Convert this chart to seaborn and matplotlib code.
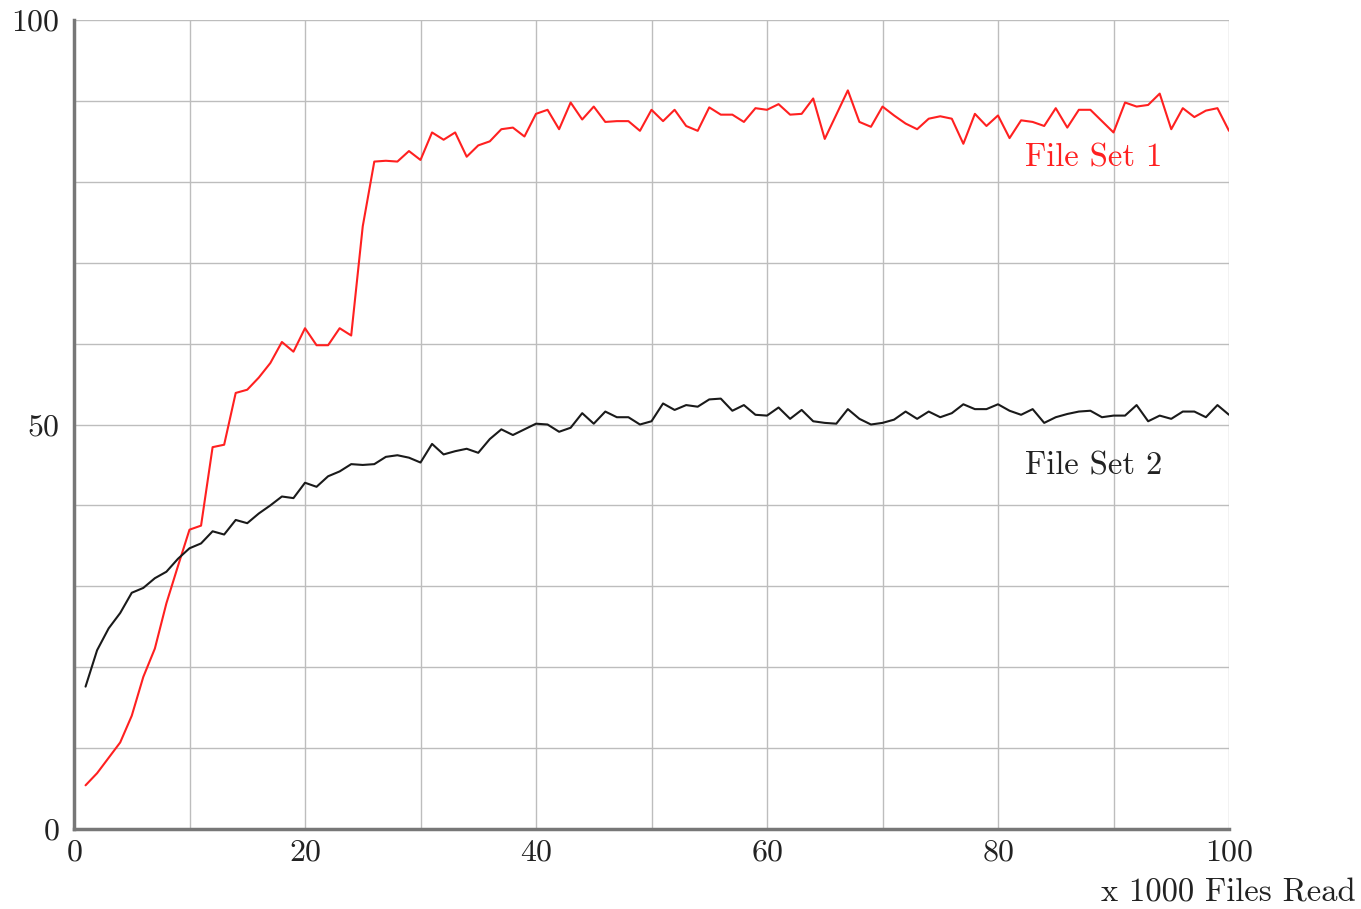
import numpy as np
import pandas as pd
import seaborn as sns
import matplotlib.pyplot as plt

# x 1000 files read
files_read = list(range(1, 101))

file_set_1 = [5.4, 6.9, 8.8, 10.7, 14.0, 18.8, 22.3, 27.9, 32.5, 37.0,
              37.5, 47.2, 47.5, 53.9, 54.3, 55.8, 57.6, 60.2, 59.0, 61.9,
              59.8, 59.8, 61.9, 61.0, 74.5, 82.5, 82.6, 82.5, 83.8, 82.7,
              86.1, 85.2, 86.1, 83.1, 84.5, 85.0, 86.5, 86.7, 85.6, 88.4,
              88.9, 86.5, 89.8, 87.7, 89.3, 87.4, 87.5, 87.5, 86.3, 88.9,
              87.5, 88.9, 86.9, 86.3, 89.2, 88.3, 88.3, 87.4, 89.1, 88.9,
              89.6, 88.3, 88.4, 90.3, 85.3, 88.3, 91.3, 87.4, 86.8, 89.3,
              88.2, 87.2, 86.5, 87.8, 88.1, 87.8, 84.7, 88.4, 86.9, 88.2,
              85.4, 87.6, 87.4, 86.9, 89.1, 86.7, 88.9, 88.9, 87.5, 86.1,
              89.8, 89.3, 89.5, 90.9, 86.5, 89.1, 88.0, 88.8, 89.1, 86.3]

file_set_2 = [17.6, 22.1, 24.8, 26.7, 29.2, 29.8, 31.0, 31.8, 33.4, 34.7,
              35.3, 36.8, 36.4, 38.2, 37.8, 39.0, 40.0, 41.1, 40.9, 42.8,
              42.3, 43.6, 44.2, 45.1, 45.0, 45.1, 46.0, 46.2, 45.9, 45.3,
              47.6, 46.3, 46.7, 47.0, 46.5, 48.2, 49.4, 48.7, 49.4, 50.1,
              50.0, 49.1, 49.6, 51.4, 50.1, 51.6, 50.9, 50.9, 50.0, 50.4,
              52.6, 51.8, 52.4, 52.2, 53.1, 53.2, 51.7, 52.4, 51.2, 51.1,
              52.1, 50.7, 51.8, 50.4, 50.2, 50.1, 51.9, 50.7, 50.0, 50.2,
              50.6, 51.6, 50.7, 51.6, 50.9, 51.4, 52.5, 51.9, 51.9, 52.5,
              51.7, 51.2, 51.9, 50.2, 50.9, 51.3, 51.6, 51.7, 50.9, 51.1,
              51.1, 52.4, 50.4, 51.1, 50.7, 51.6, 51.6, 50.9, 52.4, 51.2]

series_names = ["File Set 1", "File Set 2"]
colors = {"File Set 1": "#ff2020", "File Set 2": "#1a1a1a"}

df = pd.concat([
    pd.DataFrame({"x": files_read, "y": file_set_1, "set": series_names[0]}),
    pd.DataFrame({"x": files_read, "y": file_set_2, "set": series_names[1]}),
])

sns.set_style("white")
plt.rcParams['font.family'] = ['cmr10', 'DejaVu Serif']
plt.rcParams['axes.formatter.use_mathtext'] = True

fig = plt.figure(figsize=(13.61, 9.09), dpi=100)
ax = fig.add_axes([74 / 1361, 80 / 909, (1229 - 74) / 1361, (829 - 20) / 909])

sns.lineplot(data=df, x="x", y="y", hue="set", palette=colors, linewidth=1.5,
             legend=False, ax=ax)
for ln in ax.lines:
    ln.set_solid_joinstyle("round")

ax.set_xlim(0, 100)
ax.set_ylim(0, 100)
ax.set_xticks(np.arange(0, 101, 10), minor=True)
ax.set_yticks(np.arange(0, 101, 10), minor=True)
ax.set_xticks([0, 20, 40, 60, 80, 100])
ax.set_yticks([0, 50, 100])
ax.grid(True, which="both", color="#bdbdbd", linewidth=1.0)
ax.tick_params(which="both", length=0, labelsize=23, colors="#222222")
ax.tick_params(axis="x", pad=7)
ax.tick_params(axis="y", pad=10)
ax.set_xlabel("")
ax.set_ylabel("")

for side in ["top", "right"]:
    ax.spines[side].set_visible(False)
for side in ["left", "bottom"]:
    ax.spines[side].set_color("#777777")
    ax.spines[side].set_linewidth(2.5)

ax.text(82.3, 82.9, "File Set 1", color="#ff2020", fontsize=23.5, va="center")
ax.text(82.3, 44.9, "File Set 2", color="#222222", fontsize=23.5, va="center")
fig.text(1356 / 1361, 1 - 893 / 909, "x 1000 Files Read", ha="right", va="center",
         fontsize=23.5, color="#222222")

fig.savefig("out.png", dpi=100)
